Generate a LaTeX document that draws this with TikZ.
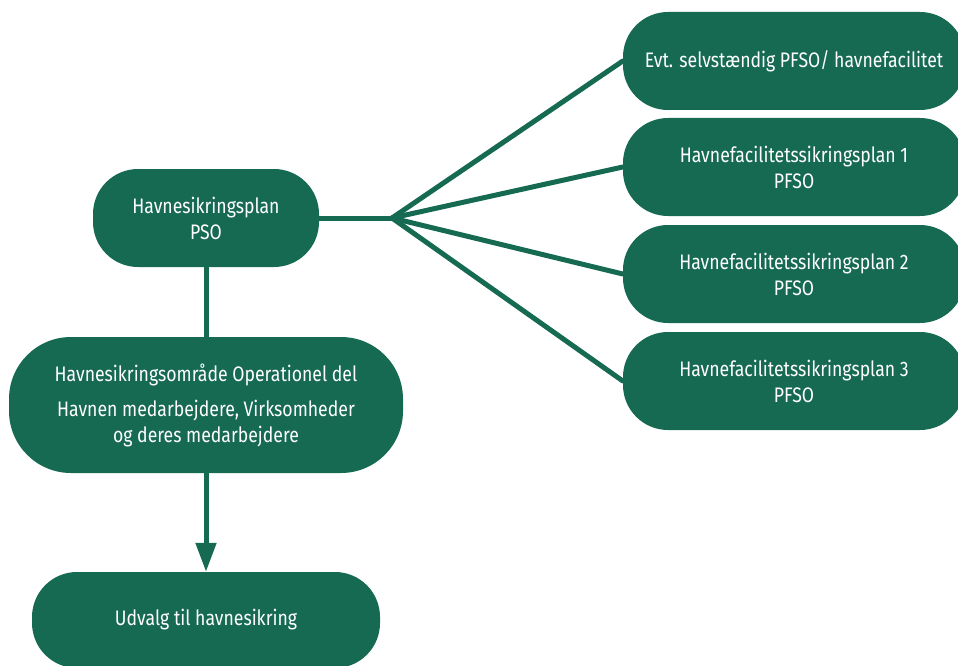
\documentclass[tikz,border=0pt]{standalone}
\usepackage{fontspec}
\setmainfont[FakeStretch=0.84]{Fira Sans}
\usetikzlibrary{arrows.meta}
\definecolor{hgreen}{HTML}{176A52}
\tikzset{
  pill/.style={fill=hgreen, text=white, align=center, inner sep=0pt, rectangle,
    rounded corners=#1, font=\fontsize{21}{26}\selectfont},
  pill/.default=45pt,
  link/.style={draw=hgreen, line width=5pt},
}
\begin{document}
\begin{tikzpicture}[x=1pt,y=-1pt]
\useasboundingbox (0,0) rectangle (958,666);
\clip (0,0) rectangle (958,666);
\node[pill, minimum width=226pt, minimum height=98pt] (pso) at (206,218) {Havnesikringsplan\\PSO};
\node[pill=62pt, minimum width=394pt, minimum height=136pt] (ops) at (206,405)
  {Havnesikringsområde Operationel del\\[9pt]Havnen medarbejdere, Virksomheder\\og deres medarbejdere};
\node[pill, minimum width=348pt, minimum height=96pt] (udv) at (206,620) {Udvalg til havnesikring};
\node[pill, minimum width=342pt, minimum height=98pt] (r1) at (794,61) {Evt. selvstændig PFSO/ havnefacilitet};
\node[pill, minimum width=342pt, minimum height=98pt] (r2) at (794,167) {Havnefacilitetssikringsplan 1\\PFSO};
\node[pill, minimum width=342pt, minimum height=98pt] (r3) at (794,274) {Havnefacilitetssikringsplan 2\\PFSO};
\node[pill, minimum width=342pt, minimum height=98pt] (r4) at (794,381) {Havnefacilitetssikringsplan 3\\PFSO};
\coordinate (hub) at (392,218);
\draw[link] (pso.east) -- (hub);
\draw[link, line cap=round] (hub) -- (r1.west);
\draw[link, line cap=round] (hub) -- (r2.west);
\draw[link, line cap=round] (hub) -- (r3.west);
\draw[link, line cap=round] (hub) -- (r4.west);
\draw[link] (pso.south) -- (ops.north);
\draw[link, -{Triangle[width=20pt,length=29pt]}] (ops.south) -- (udv.north);
\end{tikzpicture}
\end{document}
